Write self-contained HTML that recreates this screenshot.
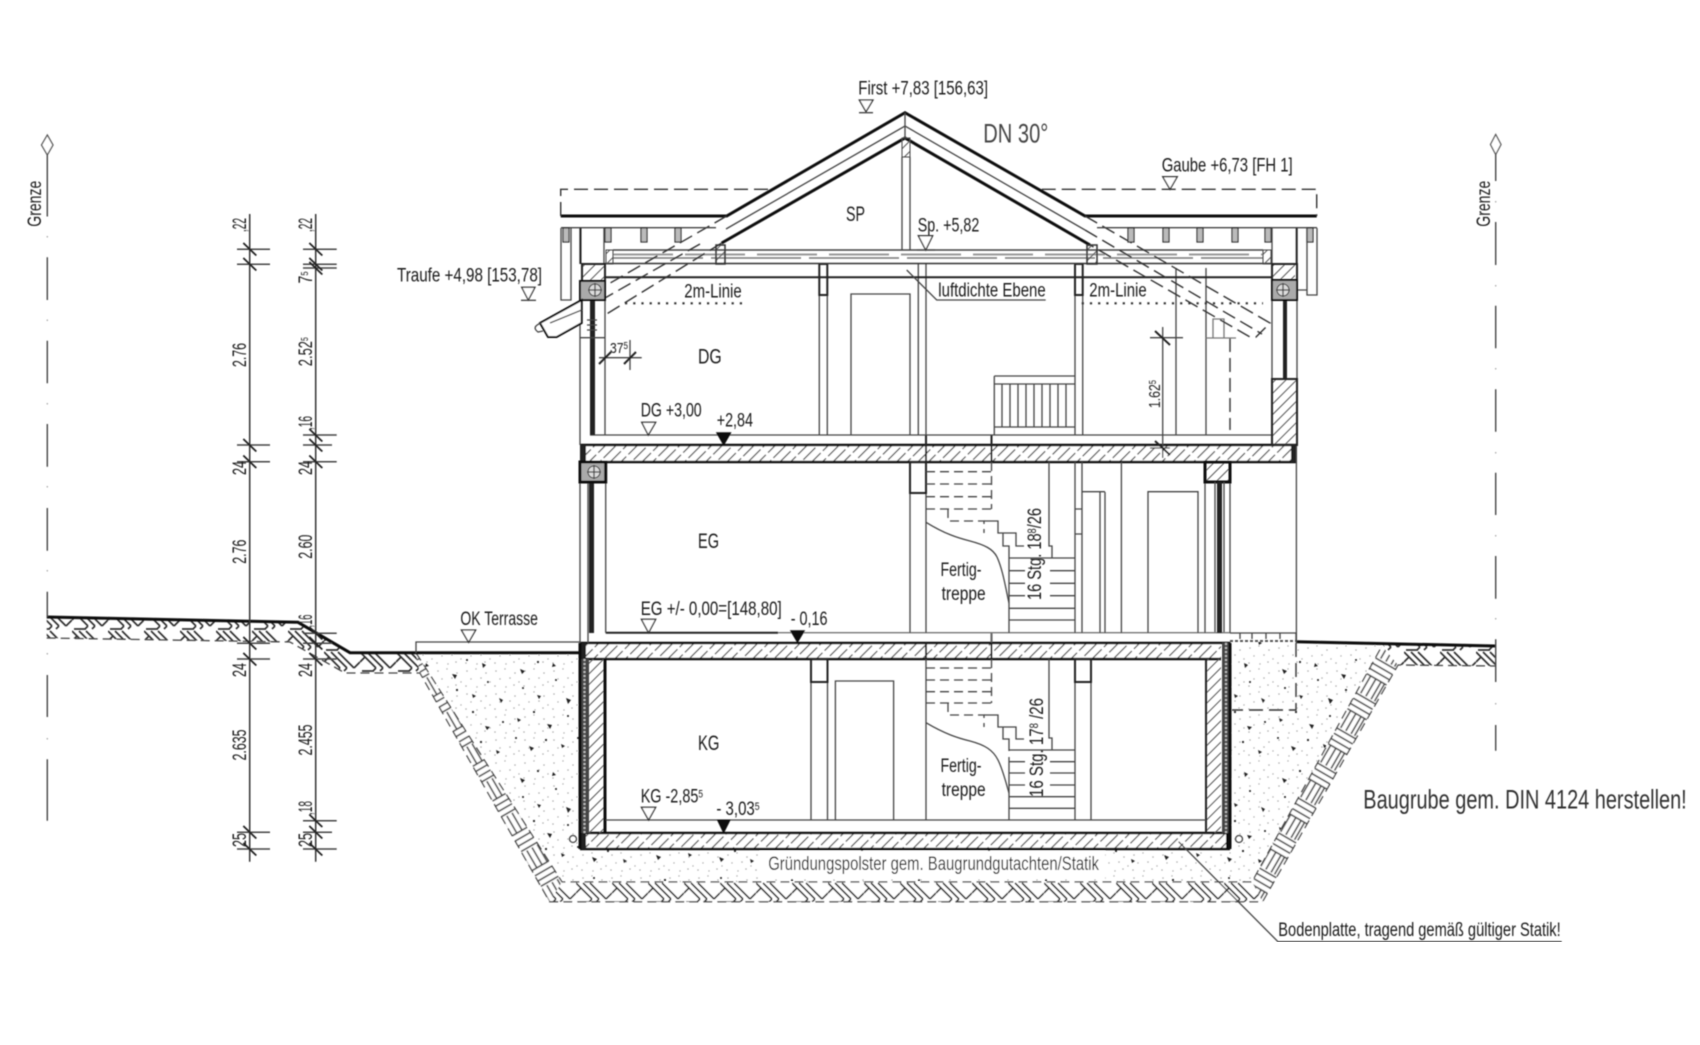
<!DOCTYPE html>
<html lang="de"><head><meta charset="utf-8"><title>Schnitt</title>
<style>
html,body{margin:0;padding:0;background:#fff}
svg{display:block}
text{font-family:"Liberation Sans",sans-serif;fill:#1a1a1a;font-size:19px}
.t{fill:none;stroke:#444;stroke-width:1.3}
.g{fill:none;stroke:#777;stroke-width:1.3}
.m{fill:none;stroke:#222;stroke-width:2}
.k{fill:none;stroke:#111;stroke-width:3}
.d{fill:none;stroke:#444;stroke-width:1.3;stroke-dasharray:9 5}
.dk{fill:none;stroke:#333;stroke-width:1.4;stroke-dasharray:14 6}
.tri{fill:#fff;stroke:#333;stroke-width:1.3}
.bt{fill:#111;stroke:#111}
.dim{font-size:15.5px}
.w{fill:#fff;stroke:none}
</style></head><body>
<svg width="1700" height="1045" viewBox="0 0 1700 1045" xmlns="http://www.w3.org/2000/svg">
<defs>
<filter id="b" x="0" y="0" width="100%" height="100%"><feGaussianBlur stdDeviation="0.55"/></filter>
<pattern id="ha" width="7.5" height="8" patternUnits="userSpaceOnUse" patternTransform="rotate(45)"><line x1="0" y1="0" x2="0" y2="8" stroke="#555" stroke-width="2"/></pattern>
<pattern id="hb" width="7.5" height="20" patternUnits="userSpaceOnUse" patternTransform="rotate(45)"><line x1="0" y1="0" x2="0" y2="17" stroke="#444" stroke-width="2.4"/></pattern>
<pattern id="so" width="36" height="21" patternUnits="userSpaceOnUse"><path d="M0,1 L16,17 M7,1 L23,17 M14,1 L30,17 M30,17 L36,11 M0,11 L5,6 M16,17 L13,20 M23,17 L20,20 M2,20 H14" fill="none" stroke="#333" stroke-width="1.7"/></pattern>
<pattern id="sl" width="40" height="22" patternUnits="userSpaceOnUse" patternTransform="rotate(60)"><path d="M0,1 H20 M0,7 H20 M0,13 H20 M0,19 H20 M20,0 V22 M26,0 V22 M32,0 V22 M38,0 V22" fill="none" stroke="#444" stroke-width="1.5"/></pattern>
<pattern id="sr" width="40" height="22" patternUnits="userSpaceOnUse" patternTransform="rotate(-60)"><path d="M0,1 H20 M0,7 H20 M0,13 H20 M0,19 H20 M20,0 V22 M26,0 V22 M32,0 V22 M38,0 V22" fill="none" stroke="#444" stroke-width="1.5"/></pattern>
<pattern id="fd" width="29" height="23" patternUnits="userSpaceOnUse">
<g fill="#aaa"><circle cx="3" cy="4" r=".8"/><circle cx="12" cy="2" r=".7"/><circle cx="22" cy="6" r=".8"/><circle cx="7" cy="12" r=".7"/><circle cx="17" cy="11" r=".8"/><circle cx="26" cy="15" r=".7"/><circle cx="2" cy="19" r=".8"/><circle cx="13" cy="20" r=".7"/><circle cx="21" cy="18" r=".8"/></g>
</pattern>
<pattern id="gr" width="127" height="109" patternUnits="userSpaceOnUse">
<g fill="#222"><path d="M12,15 l5,2 l-3,3 z M45,9 l3,3 l-4,1 z M71,20 l5,1 l-2,4 z M101,9 l4,2 l-3,3 z M29,41 l4,1 l-2,3 z M58,44 l5,2 l-3,4 z M91,40 l4,2 l-3,2 z M118,44 l4,2 l-2,3 z M9,64 l4,2 l-3,2 z M39,70 l5,1 l-2,4 z M75,66 l4,2 l-3,3 z M104,72 l5,1 l-3,3 z M21,92 l5,2 l-3,3 z M53,90 l4,2 l-3,2 z M84,94 l5,2 l-3,3 z M115,96 l4,2 l-3,2 z"/><circle cx="30" cy="8" r="1.1"/><circle cx="86" cy="6" r="1"/><circle cx="15" cy="34" r="1"/><circle cx="76" cy="36" r="1.1"/><circle cx="107" cy="28" r="1"/><circle cx="26" cy="58" r="1.1"/><circle cx="60" cy="62" r="1"/><circle cx="92" cy="58" r="1.1"/><circle cx="122" cy="68" r="1"/><circle cx="8" cy="84" r="1"/><circle cx="38" cy="86" r="1.1"/><circle cx="70" cy="84" r="1"/><circle cx="100" cy="88" r="1.1"/><circle cx="48" cy="26" r="1"/></g>
</pattern>
</defs>
<rect width="1700" height="1045" fill="#fff"/>
<g filter="url(#b)">

<!-- GRAVEL & SOIL -->
<polygon points="416,653 580,653 580,849 1230,849 1230,642 1296,642 1382,645 1252,882 562,882" fill="url(#fd)"/>
<polygon points="416,653 580,653 580,849 1230,849 1230,642 1296,642 1382,645 1252,882 562,882" fill="url(#gr)"/>
<rect x="760" y="851" width="345" height="28" fill="#fff"/>
<polygon points="46.7,617 298,622 350,653 416,653 420,673 345,673 290,642 46.7,638" fill="url(#so)"/>
<polygon points="416,653 562,882 549.6,901.7 420,673" fill="#fff"/>
<polygon points="416,653 562,882 549.6,901.7 420,673" fill="url(#sl)"/>
<polygon points="562,882 1252,882 1262.5,901.7 549.6,901.7" fill="#fff"/>
<polygon points="562,882 1252,882 1262.5,901.7 549.6,901.7" fill="url(#so)"/>
<polygon points="1252,882 1382,646 1398,665 1262.5,901.7" fill="#fff"/>
<polygon points="1252,882 1382,646 1398,665 1262.5,901.7" fill="url(#sr)"/>
<polygon points="1382,644 1495,646 1495,666 1398,665" fill="url(#so)"/>
<path d="M46.7,638 L290,642 L345,673 L420,673 L549.6,901.7 L1262.5,901.7 L1398,665 L1495,666" class="d"/>
<path d="M416,653 L562,882 L1252,882 L1382,646" class="d"/>
<polyline points="46.7,617 298,622.3 350,652.7 580,652.7" class="k"/>
<polyline points="1296,641.7 1495,646" class="k"/>
<path d="M416,653 V642 H580" class="t"/>
<path d="M1230,633 H1296 V642 M1240,633 v6 M1252,633 v6 M1266,633 v6 M1280,633 v6" class="t"/>
<path d="M1230,641 H1296" stroke="#555" stroke-width="2" stroke-dasharray="3 2" fill="none"/>
<path d="M1296,643 V710 H1232" class="dk"/>

<!-- SLABS -->
<rect x="580" y="445" width="717" height="17" fill="#fff"/><rect x="580" y="445" width="717" height="17" fill="url(#hb)"/>
<rect x="580" y="643" width="641" height="16" fill="#fff"/><rect x="580" y="643" width="641" height="16" fill="url(#hb)"/>
<rect x="580" y="833" width="650" height="16" fill="#fff"/><rect x="580" y="833" width="650" height="16" fill="url(#hb)"/>
<path d="M580,445 H1297 M580,462 H1297 M580,643 H1230 M580,659 H1221 M580,833 H1230 M580,849 H1230" stroke="#111" stroke-width="2.4" fill="none"/>
<rect x="580" y="445" width="6" height="17" fill="#222"/><rect x="1291" y="445" width="6" height="17" fill="#222"/>
<rect x="580" y="643" width="6" height="16" fill="#222"/><rect x="580" y="833" width="6" height="16" fill="#222"/><rect x="1226" y="833" width="4" height="16" fill="#111"/>
<path d="M926,435 V462 M991.5,435 V462 M926,643 V659 M991.5,632 V659" class="m"/>

<!-- KG WALLS -->
<rect x="589" y="659" width="16" height="174" fill="url(#ha)"/>
<rect x="1206" y="659" width="15" height="174" fill="url(#ha)"/>
<rect x="580" y="659" width="9" height="174" fill="#444"/>
<rect x="1222" y="643" width="8" height="190" fill="#444"/>
<path d="M584.5,659 V833" stroke="#bbb" stroke-width="2" stroke-dasharray="2 2"/>
<path d="M1226,643 V833" stroke="#bbb" stroke-width="2" stroke-dasharray="2 2"/>
<path d="M605,659 V833" class="k"/><path d="M1206,659 V833" class="m"/><path d="M1230,643 V849" class="k"/><path d="M580,643 V849" class="k"/>
<circle cx="573" cy="839" r="3.5" class="t"/><circle cx="1239" cy="839" r="3.5" class="t"/>

<!-- FLOOR LINES -->
<path d="M605.7,820 H1206" class="t"/>
<path d="M605.7,632.7 H778" class="m"/><path d="M778,632.7 H1230" class="g"/>
<path d="M590,435 H1272" class="t"/>

<!-- KG interior -->
<path d="M811,659 V820 M827.5,659 V820" class="t"/>
<rect x="811" y="659" width="16.5" height="23" class="m"/>
<path d="M835.4,820 V681 H893.6 V820" class="t"/>
<path d="M926,659 V820 M1009,757 V820 M1075,659 V820 M1091,659 V820" class="t"/>
<rect x="1075" y="659" width="16" height="23" class="m"/>
<path d="M1009,750 H1075 M1009,761.7 H1025 M1050,761.7 H1075 M1009,773 H1025 M1050,773 H1075 M1009,785 H1025 M1050,785 H1075 M1009,796.7 H1075 M1009,808.3 H1075" class="t"/>
<path d="M926,668 H991 M926,680 H991 M926,691.7 H991 M926,703 H996 M948,703 V715 H984 V727" class="d"/>
<path d="M991.5,659 V703" class="d"/>
<path d="M984,715 H998 V727 H1016 V739 H1024 M1003,727 V739 H1009 V751" class="t"/>
<path d="M926,722.7 C945,734 958,738 970,741 C985,745 993,750 998,760 C1003,770 1006,783 1009,793" class="t"/>
<path d="M1049,659 V738 H1052 V750" class="t"/>

<!-- EG interior -->
<path d="M605.7,462 V632.7 M910,492 V632.7 M926,462 V632.7 M1009,558 V632.7 M1075,462 V632.7 M1082,462 V632.7 M1100,492 V632.7 M1105,492 V632.7 M1121.4,462 V632.7 M1205,482 V632.7 M1230,462 V632.7" class="t"/>
<rect x="910" y="462" width="16" height="31" class="m"/>
<path d="M1082,491.7 H1105 M1075,509 H1082 M1075,534 H1082" class="t"/>
<path d="M1148,632.7 V491.7 H1198 V632.7" class="t"/>
<rect x="1205" y="462" width="25" height="20" fill="url(#ha)"/><rect x="1205" y="462" width="25" height="20" class="k"/>
<path d="M1296.4,445 V643" class="t"/>
<rect x="1217" y="482" width="5" height="151" fill="#222"/><path d="M1215,482 V632 M1224,482 V632" class="t"/>
<rect x="589" y="482" width="5" height="151" fill="#222"/><path d="M580,462 V643 M588,482 V643" class="t"/>
<rect x="580" y="462" width="25.7" height="20" fill="#aaa"/><rect x="580" y="462" width="25.7" height="20" class="k"/>
<circle cx="594" cy="472" r="6" fill="#ddd" stroke="#333"/><path d="M587,472 H601 M594,465 V479" class="t"/>
<path d="M1009,558 H1075 M1009,570.7 H1025 M1050,570.7 H1075 M1009,583.3 H1025 M1050,583.3 H1075 M1009,595.7 H1025 M1050,595.7 H1075 M1009,608.3 H1075 M1009,620 H1075" class="t"/>
<path d="M926,471.7 H991 M926,484 H991 M926,496.7 H991 M926,509 H996 M948,509 V521 H984 V533" class="d"/>
<path d="M991.5,462 V509 M991.5,509" class="d"/>
<path d="M984,521 H998 V533 H1016 V546 H1024 M1003,533 V546 H1009 V558" class="t"/>
<path d="M926,522.3 C945,534 958,538 970,541 C985,545 993,549 997,557 C1003,570 1006,590 1009,603" class="t"/>
<path d="M1049,462 V546 H1052 V558" class="t"/>
<path d="M991.5,632 V642" class="g"/>

<!-- DG interior -->
<path d="M580,300 V445 M605,264 V435 M819.3,264 V435 M827.3,264 V435 M918.3,264 V435 M926,264 V435 M1075,264 V435 M1082.7,264 V435 M1176,268 V435 M1206,268 V435 M1272,300 V379 M1297,300 V379" class="t"/>
<rect x="819.3" y="264" width="8" height="31" class="m"/>
<rect x="1075" y="264" width="7.7" height="31" class="m"/>
<path d="M851,435 V294 H910 V435" class="t"/>
<path d="M994.3,376 H1075 M994.3,384 H1075 M994.3,427 H1075 M994.3,376 V435 M1002,384 V427 M1010,384 V427 M1018,384 V427 M1026,384 V427 M1034,384 V427 M1042,384 V427 M1050,384 V427 M1058,384 V427 M1066,384 V427" class="t"/>
<path d="M1230,338 V430" class="dk"/>
<path d="M1213,319 H1224 V338 H1213 Z M1206,338 H1236" class="g"/>
<rect x="1272" y="379" width="25" height="66" fill="url(#ha)"/><rect x="1272" y="379" width="25" height="66" class="m"/>
<rect x="1283" y="300" width="4" height="79" fill="#222"/>
<rect x="590" y="300" width="5" height="135" fill="#222"/>
<path d="M587,320 H597 M587,325 H597 M587,330 H597 M580,337.7 H605" class="t"/>

<!-- ATTIC FLOOR -->
<path d="M613,250 H1263" stroke="#444" stroke-width="1.5" fill="none"/>
<path d="M613,254.5 H1263" stroke="#999" stroke-width="2" stroke-dasharray="60 12" fill="none"/>
<path d="M613,258 H1263" stroke="#777" stroke-width="1.6" stroke-dasharray="90 8" fill="none"/>
<path d="M605,263.5 H1272" stroke="#333" stroke-width="1.6" fill="none"/>
<path d="M605,277.3 H1272" class="m"/>

<!-- ROOF -->
<polyline points="560.7,216 726.7,216 905,112.7 1085,216 1316.7,216" class="k"/>
<path d="M721.7,243 L905,138 L1090,245" class="k"/>
<path d="M726,229 L905,126 L1085,230" class="t"/>
<path d="M905,112.7 V138" class="t"/>
<path d="M726.7,216 L605,286 M721.7,243 L605,315 M700,244 L605,298" class="dk"/>
<path d="M1085,216 L1270,323 L1256,337 L1250,337 L1090,245 M1085,230 L1262,334" class="dk"/>
<path d="M560.7,216 V189.3 H770 M1041.7,189.3 H1316.7 V216" class="dk"/>
<path d="M561,227.7 H716 M1097,227.7 H1317" class="t"/>
<path d="M902,157 V250 M910,157 V250" class="t"/>
<rect x="902" y="138" width="8" height="19" fill="url(#ha)" stroke="#444"/>
<rect x="716" y="245" width="9" height="19" fill="url(#ha)" stroke="#333" stroke-width="1.5"/>
<rect x="1087" y="245" width="10" height="19" fill="url(#ha)" stroke="#333" stroke-width="1.5"/>
<rect x="606" y="250" width="7" height="14" fill="url(#ha)" stroke="#444"/>
<rect x="1263" y="250" width="8" height="14" fill="url(#ha)" stroke="#444"/>
<g fill="#bbb" stroke="#333" stroke-width="1.2">
<rect x="563" y="228" width="6" height="14"/><rect x="605" y="228" width="6" height="14"/><rect x="641" y="228" width="6" height="14"/><rect x="675" y="228" width="6" height="14"/>
<rect x="1128" y="228" width="6" height="14"/><rect x="1163" y="228" width="6" height="14"/><rect x="1197" y="228" width="6" height="14"/><rect x="1232" y="228" width="6" height="14"/><rect x="1265" y="228" width="6" height="14"/><rect x="1307" y="228" width="6" height="14"/>
</g>
<!-- eaves left -->
<path d="M561,228 V300 H571 V228 M580,228 V264 M604,228 V264" class="t"/>
<path d="M580.5,228 V264" class="m"/>
<rect x="582" y="264" width="23" height="17" fill="url(#ha)"/><rect x="582" y="264" width="23" height="17" class="m"/>
<rect x="580" y="281" width="25" height="19" fill="#aaa" stroke="#111" stroke-width="2"/>
<circle cx="595" cy="290" r="6" fill="#ddd" stroke="#333"/><path d="M588,290 H602 M595,283 V297" class="t"/>
<!-- eaves right -->
<path d="M1272,228 V264" class="t"/><path d="M1296.7,228 V264" class="m"/>
<path d="M1307,228 V295 H1317 V228 M1297,290 H1307" class="t"/>
<rect x="1272" y="264" width="23" height="16" fill="url(#ha)"/><rect x="1272" y="264" width="25" height="16" class="m"/>
<rect x="1272" y="280" width="25" height="20" fill="#aaa" stroke="#111" stroke-width="2"/>
<circle cx="1283" cy="290" r="6" fill="#ddd" stroke="#333"/><path d="M1276,290 H1290 M1283,283 V297" class="t"/>
<!-- gutter -->
<polygon points="540,323 581.7,300 581.7,323 556.7,337 548,337" fill="#fff" stroke="#111" stroke-width="2"/>
<path d="M550,323 L581.7,310" class="t"/><path d="M541,323 Q531,327 538,332 L543,331" class="t"/>
<!-- 2m lines -->
<path d="M625,303.3 H748 M1081.7,303.3 H1263" stroke="#333" stroke-width="2.2" stroke-dasharray="2.2 6" fill="none"/>

<!-- dims inside -->
<path d="M599,357.7 H641.7 M630,340 V370" class="t"/>
<path d="M599,364 L611,352 M624,364 L636,352" class="m"/>
<path d="M1162.7,327 V458 M1150,337.7 H1183 M1150,448 H1170" class="t"/>
<path d="M1155,331 L1170,345 M1155,441 L1170,455" class="m"/>
<!-- leaders -->
<polyline points="906.7,270 936.7,300 1045.7,300" class="t"/>
<polyline points="1178.6,841.7 1278,941.7 1561.7,941.7" class="t"/>

<!-- level triangles -->
<g class="tri">
<polygon points="859.3,100 873,100 866,111.7"/><polygon points="1162.7,176.7 1177.3,176.7 1170,189.3"/>
<polygon points="521.7,287.3 535,287.3 528.3,300"/><polygon points="918.3,235.7 932.7,235.7 925.7,250"/>
<polygon points="641.7,422.3 655.7,422.3 648.3,435"/><polygon points="641.4,619.3 655.7,619.3 648.6,632.7"/>
<polygon points="461.4,630 475.7,630 468.6,642.3"/><polygon points="641.4,807.3 655.7,807.3 648.6,820"/>
</g>
<path d="M859,112.7 H873 M521,300.3 H536 M917,250 H935" class="t"/>
<g class="bt">
<polygon points="716.7,432.7 730.7,432.7 723.7,445"/><polygon points="790.7,630.7 804.3,630.7 797.5,642.3"/><polygon points="717.5,820 730,820 723.6,832.7"/>
</g>

<!-- GRENZE -->
<polygon points="47.3,135 53,145 47.3,155 41.5,145" fill="#fff" stroke="#555" stroke-width="1.3"/>
<path d="M47.3,155 V216.5 M47.3,257.3 V300 M47.3,340.7 V383.3 M47.3,424 V466.7 M47.3,508 V550.7 M47.3,591.7 V617 M47.3,675 V717 M47.3,759.3 V820.7" stroke="#444" stroke-width="1.4" fill="none"/>
<path d="M47.3,236 v1.5 M47.3,319.5 v1.5 M47.3,403 v1.5 M47.3,486 v1.5 M47.3,570 v1.5 M47.3,653 v1.5 M47.3,738 v1.5" stroke="#aaa" stroke-width="1.3"/>
<polygon points="1495.7,134.5 1501,144.5 1495.7,154.5 1490.5,144.5" fill="#fff" stroke="#555" stroke-width="1.3"/>
<path d="M1495.7,154.5 V181 M1495.7,222 V265 M1495.7,305.7 V348.3 M1495.7,389.3 V431.7 M1495.7,472.7 V515 M1495.7,556 V598.7 M1495.7,639.3 V682 M1495.7,725 V750.7" stroke="#444" stroke-width="1.4" fill="none"/>
<path d="M1495.7,201 v1.5 M1495.7,285 v1.5 M1495.7,368 v1.5 M1495.7,452 v1.5 M1495.7,535 v1.5 M1495.7,618 v1.5 M1495.7,703 v1.5" stroke="#aaa" stroke-width="1.3"/>

<!-- DIM CHAINS -->
<path d="M249.7,214 V861.7 M315.7,214 V861.7" stroke="#333" stroke-width="1.5" fill="none"/>
<path d="M237,249.3 H270 M237,264.3 H270 M237,445 H270 M237,461.7 H270 M237,643.3 H270 M237,659 H270 M237,832.3 H270 M237,849 H270" stroke="#444" stroke-width="1.5" fill="none"/>
<path d="M303,249.3 H336.7 M303,264.3 H336.7 M303,268 H336.7 M303,435 H336.7 M303,445 H332 M303,461.7 H336.7 M303,633.3 H336.7 M303,643.3 H332 M303,659 H336.7 M303,820.7 H336.7 M303,832.3 H332 M303,849 H336.7" stroke="#444" stroke-width="1.5" fill="none"/>
<path d="M243.3,243 l13,12.5 M243.3,258 l13,12.5 M243.3,439 l13,12.5 M243.3,455.5 l13,12.5 M243.3,637 l13,12.5 M243.3,653 l13,12.5 M243.3,826 l13,12.5 M243.3,843 l13,12.5" stroke="#222" stroke-width="1.8" fill="none"/>
<path d="M309.3,243 l13,12.5 M309.3,258 l13,12.5 M309.3,262 l13,12.5 M309.3,429 l13,12.5 M309.3,439 l13,12.5 M309.3,455.5 l13,12.5 M309.3,627 l13,12.5 M309.3,637 l13,12.5 M309.3,653 l13,12.5 M309.3,814.5 l13,12.5 M309.3,826 l13,12.5 M309.3,843 l13,12.5" stroke="#222" stroke-width="1.8" fill="none"/>
<g class="dim" text-anchor="middle">
<text transform="translate(246,225) rotate(-90)" textLength="14" lengthAdjust="spacingAndGlyphs">,22</text>
<text transform="translate(246,355) rotate(-90)" textLength="24" lengthAdjust="spacingAndGlyphs">2.76</text>
<text transform="translate(246,468) rotate(-90)" textLength="14" lengthAdjust="spacingAndGlyphs">24</text>
<text transform="translate(246,551.7) rotate(-90)" textLength="24" lengthAdjust="spacingAndGlyphs">2.76</text>
<text transform="translate(246,670) rotate(-90)" textLength="14" lengthAdjust="spacingAndGlyphs">24</text>
<text transform="translate(246,745) rotate(-90)" textLength="31" lengthAdjust="spacingAndGlyphs">2.635</text>
<text transform="translate(246,840) rotate(-90)" textLength="14" lengthAdjust="spacingAndGlyphs">25</text>
<text transform="translate(312,225) rotate(-90)" textLength="14" lengthAdjust="spacingAndGlyphs">,22</text>
<text transform="translate(312,277.5) rotate(-90)" textLength="12" lengthAdjust="spacingAndGlyphs">7<tspan font-size="10" dy="-4">5</tspan></text>
<text transform="translate(312,351.7) rotate(-90)" textLength="29" lengthAdjust="spacingAndGlyphs">2.52<tspan font-size="10" dy="-4">5</tspan></text>
<text transform="translate(312,423) rotate(-90)" textLength="14" lengthAdjust="spacingAndGlyphs">,16</text>
<text transform="translate(312,468) rotate(-90)" textLength="14" lengthAdjust="spacingAndGlyphs">24</text>
<text transform="translate(312,546.7) rotate(-90)" textLength="24" lengthAdjust="spacingAndGlyphs">2.60</text>
<text transform="translate(312,621) rotate(-90)" textLength="13" lengthAdjust="spacingAndGlyphs">,16</text>
<text transform="translate(312,670) rotate(-90)" textLength="14" lengthAdjust="spacingAndGlyphs">24</text>
<text transform="translate(312,740) rotate(-90)" textLength="31" lengthAdjust="spacingAndGlyphs">2.455</text>
<text transform="translate(312,808) rotate(-90)" textLength="14" lengthAdjust="spacingAndGlyphs">,18</text>
<text transform="translate(312,840) rotate(-90)" textLength="14" lengthAdjust="spacingAndGlyphs">25</text>
</g>

<!-- TEXT -->
<text transform="translate(41,226.7) rotate(-90)" textLength="46" lengthAdjust="spacingAndGlyphs" font-size="18">Grenze</text>
<text transform="translate(1490,226.7) rotate(-90)" textLength="46" lengthAdjust="spacingAndGlyphs" font-size="18">Grenze</text>
<text x="858.3" y="94.3" textLength="129.7" lengthAdjust="spacingAndGlyphs">First +7,83 [156,63]</text>
<text x="983.3" y="142.7" textLength="65" lengthAdjust="spacingAndGlyphs" style="font-size:27px;fill:#444">DN 30°</text>
<text x="1161.7" y="171.7" textLength="131" lengthAdjust="spacingAndGlyphs">Gaube +6,73 [FH 1]</text>
<text x="397" y="281.7" textLength="145" lengthAdjust="spacingAndGlyphs">Traufe +4,98 [153,78]</text>
<text x="846" y="221" textLength="19" lengthAdjust="spacingAndGlyphs" style="font-size:21px">SP</text>
<text x="917.7" y="231.7" textLength="61.6" lengthAdjust="spacingAndGlyphs">Sp. +5,82</text>
<text x="684.3" y="297.3" textLength="57.4" lengthAdjust="spacingAndGlyphs">2m-Linie</text>
<text x="938.3" y="296.7" textLength="107.4" lengthAdjust="spacingAndGlyphs">luftdichte Ebene</text>
<text x="1089.3" y="296.7" textLength="57.4" lengthAdjust="spacingAndGlyphs">2m-Linie</text>
<text x="698" y="363.3" textLength="23.7" lengthAdjust="spacingAndGlyphs" style="font-size:21px">DG</text>
<text x="610" y="353" textLength="18" lengthAdjust="spacingAndGlyphs" style="font-size:15px">37<tspan font-size="10" dy="-4">5</tspan></text>
<text x="640.7" y="416.7" textLength="61" lengthAdjust="spacingAndGlyphs">DG +3,00</text>
<text x="716.7" y="426.7" textLength="36.3" lengthAdjust="spacingAndGlyphs">+2,84</text>
<text x="698" y="548" textLength="21" lengthAdjust="spacingAndGlyphs" style="font-size:21px">EG</text>
<text x="640.7" y="615" textLength="141" lengthAdjust="spacingAndGlyphs">EG +/- 0,00=[148,80]</text>
<text x="790.7" y="625" textLength="36.8" lengthAdjust="spacingAndGlyphs">- 0,16</text>
<text x="460.4" y="625" textLength="77.5" lengthAdjust="spacingAndGlyphs">OK Terrasse</text>
<text x="698" y="750" textLength="21.4" lengthAdjust="spacingAndGlyphs" style="font-size:21px">KG</text>
<text x="640.7" y="802.3" textLength="62.3" lengthAdjust="spacingAndGlyphs">KG -2,85<tspan font-size="11" dy="-5">5</tspan></text>
<text x="716.4" y="815" textLength="43.2" lengthAdjust="spacingAndGlyphs">- 3,03<tspan font-size="11" dy="-5">5</tspan></text>
<text x="961" y="576" text-anchor="middle" textLength="41" lengthAdjust="spacingAndGlyphs">Fertig-</text>
<text x="963.6" y="600" text-anchor="middle" textLength="44" lengthAdjust="spacingAndGlyphs">treppe</text>
<text x="961" y="772" text-anchor="middle" textLength="41" lengthAdjust="spacingAndGlyphs">Fertig-</text>
<text x="963.6" y="796" text-anchor="middle" textLength="44" lengthAdjust="spacingAndGlyphs">treppe</text>
<text transform="translate(1041,600) rotate(-90)" textLength="92" lengthAdjust="spacingAndGlyphs">16 Stg. 18<tspan font-size="12" dy="-5">8</tspan><tspan dy="5">/26</tspan></text>
<text transform="translate(1043,797) rotate(-90)" textLength="99" lengthAdjust="spacingAndGlyphs">16 Stg. 17<tspan font-size="12" dy="-5">8</tspan><tspan dy="5"> /26</tspan></text>
<text transform="translate(1160,408) rotate(-90)" textLength="28" lengthAdjust="spacingAndGlyphs" style="font-size:16px">1.62<tspan font-size="10" dy="-4">5</tspan></text>
<text x="768.2" y="870" textLength="330.8" lengthAdjust="spacingAndGlyphs">Gründungspolster gem. Baugrundgutachten/Statik</text>
<text x="1363.3" y="808.3" textLength="323.4" lengthAdjust="spacingAndGlyphs" style="font-size:27px;fill:#333">Baugrube gem. DIN 4124 herstellen!</text>
<text x="1278.3" y="936" textLength="282.4" lengthAdjust="spacingAndGlyphs">Bodenplatte, tragend gemäß gültiger Statik!</text>
</g>
</svg>
</body></html>
